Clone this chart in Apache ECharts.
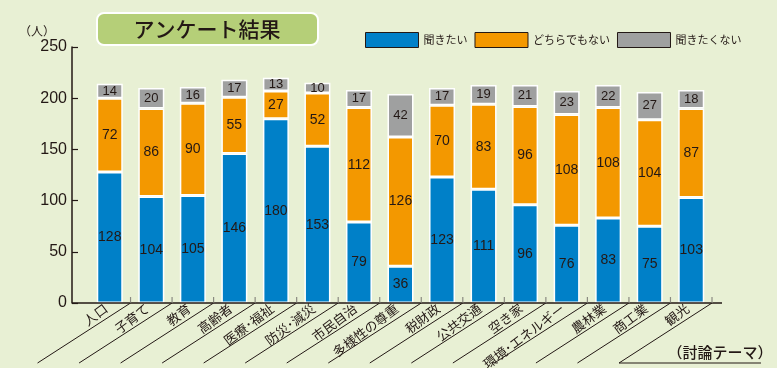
<!DOCTYPE html>
<html><head><meta charset="utf-8">
<script src="https://cdn.jsdelivr.net/npm/echarts@6/dist/echarts.min.js"></script>
<style>html,body{margin:0;padding:0;background:#e8f0d4;}#c{width:777px;height:368px;}</style>
</head><body><div id="c"></div>
<script>
const categories = ['人口','子育て','教育','高齢者','医療･福祉','防災･減災','市民自治','多様性の尊重','税財政','公共交通','空き家','環境･エネルギー','農林業','商工業','観光'];
const seriesNames = ['聞きたい','どちらでもない','聞きたくない'];
const wantToHear = [128,104,105,146,180,153,79,36,123,111,96,76,83,75,103];
const neutral = [72,86,90,55,27,52,112,126,70,83,96,108,108,104,87];
const notWant = [14,20,16,17,13,10,17,42,17,19,21,23,22,27,18];
const yTicks = {min:0, max:250, interval:50};

const colors = ['#0080c8','#f39800','#9fa0a0'];
const ink = '#231815';
const jp = '"Noto Sans CJK JP", "Noto Sans", sans-serif';
const num = '"Liberation Sans", Arial, sans-serif';

const chart = echarts.init(document.getElementById('c'));
function mkSeries(name, data, color, fs){
  return {name, type:'bar', stack:'t', data, barWidth:26,
    itemStyle:{color, borderColor:'#ffffff', borderWidth:1.5},
    label:{show:true, position:'inside', color:ink, fontSize:fs, fontFamily:num},
    emphasis:{disabled:true}};
}
chart.setOption({
  backgroundColor:'#e8f0d4',
  animation:false,
  grid:{left:89, right:65, top:47, bottom:65, containLabel:false, outerBoundsMode:'none'},
  legend:{data:seriesNames, left:365, top:32, width:420, padding:0, itemWidth:53, itemHeight:15, itemGap:7, icon:'rect',
    itemStyle:{borderColor:ink, borderWidth:1},
    textStyle:{fontSize:11, color:ink, fontFamily:jp}},
  xAxis:{type:'category', data:categories,
    axisLine:{show:false}, axisTick:{show:false},
    axisLabel:{interval:0, rotate:37, fontSize:13, color:ink, fontFamily:jp, margin:9, align:'right', verticalAlign:'bottom'}},
  yAxis:{type:'value', min:yTicks.min, max:yTicks.max, interval:yTicks.interval, offset:17,
    axisLine:{show:true, lineStyle:{color:ink, width:1.5}},
    axisTick:{show:true, inside:true, length:6, lineStyle:{color:ink, width:1.2}},
    axisLabel:{fontSize:16, color:ink, fontFamily:num, margin:5},
    splitLine:{show:false}},
  series:[mkSeries(seriesNames[0], wantToHear, colors[0], 14),
          mkSeries(seriesNames[1], neutral, colors[1], 14),
          mkSeries(seriesNames[2], notWant, colors[2], 13)]
});

// decorations: baseline, boundary ticks, diagonal label guides
const c0 = chart.convertToPixel({xAxisIndex:0}, 0);
const c1 = chart.convertToPixel({xAxisIndex:0}, 1);
const bw = c1 - c0;
const left = c0 - bw/2;
const y0 = chart.convertToPixel({yAxisIndex:0}, 0);
const yAxisX = left - 17;
const g = [];
g.push({type:'line', shape:{x1:yAxisX, y1:y0, x2:left + categories.length*bw + 10, y2:y0}, style:{stroke:ink, lineWidth:1.5}, z:10});
for (let i=1;i<=categories.length;i++){
  const xb = left + i*bw;
  g.push({type:'line', shape:{x1:xb, y1:y0, x2:xb, y2:y0-6}, style:{stroke:'#8a8a80', lineWidth:1.2}, z:10});
  g.push({type:'line', shape:{x1:xb, y1:y0, x2:xb-93, y2:y0+60}, style:{stroke:ink, lineWidth:1}, z:10});
  if (i===categories.length){
    g.push({type:'line', shape:{x1:xb-93, y1:y0+60, x2:xb+49, y2:y0+60}, style:{stroke:ink, lineWidth:1}, z:10});
  }
}
// title box
g.push({type:'rect', shape:{x:97, y:13, width:221, height:32, r:7}, style:{fill:'#b5cf78', stroke:'#ffffff', lineWidth:2}, z:5});
g.push({type:'text', x:207, y:29, style:{text:'アンケート結果', font:'500 21px '+jp, fill:ink, textAlign:'center', textVerticalAlign:'middle'}, z:6});
g.push({type:'text', x:37, y:31, style:{text:'（人）', font:'12px '+jp, fill:ink, textAlign:'center', textVerticalAlign:'middle'}, z:6});
g.push({type:'text', x:720, y:352, style:{text:'（討論テーマ）', font:'500 15px '+jp, fill:ink, textAlign:'center', textVerticalAlign:'middle'}, z:6});
chart.setOption({graphic:g});
</script>
</body></html>
